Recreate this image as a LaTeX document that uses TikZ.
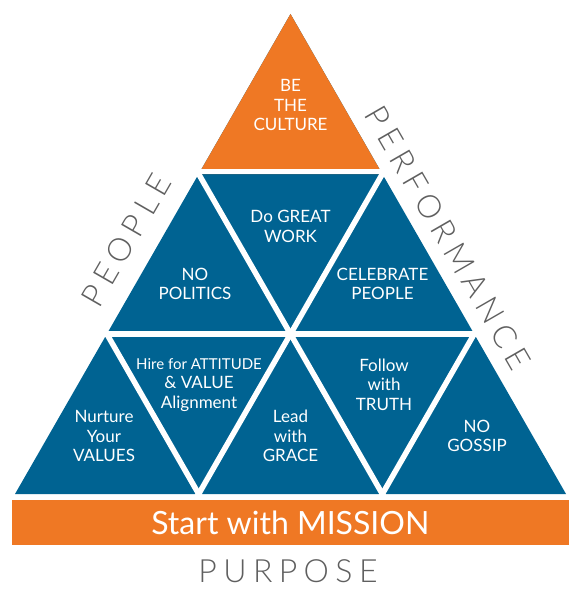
\documentclass[tikz,border=0pt]{standalone}
\usepackage{fontspec}
\setmainfont{Lato}
\newfontfamily\lightfont{Lato Light}[LetterSpace=20]
\definecolor{pyrOrange}{RGB}{239,120,36}
\definecolor{pyrBlue}{RGB}{0,99,146}
\definecolor{labelGrey}{RGB}{95,95,95}
\tikzset{
    gapline/.style={draw=white, line width=5.5pt, shorten <=-8pt, shorten >=-8pt},
    tritext/.style={text=white, align=center, inner sep=0pt, font=\fontsize{17}{19.5}\selectfont},
    sidelabel/.style={text=labelGrey, inner sep=0pt, font=\lightfont\fontsize{32}{32}\selectfont},
}

\begin{document}
\begin{tikzpicture}[x=1pt,y=-1pt]
        \useasboundingbox (0,0) rectangle (581,604);

        \foreach \r in {0,...,3} {
            \foreach \k in {0,...,\r} {
                \coordinate (v\r\k) at ({290.5-\r*91.83+\k*183.67},{14+160*\r});
            }
        }

        \fill[pyrBlue] (v00) -- (v30) -- (v33) -- cycle;
        \fill[pyrOrange] (v00) -- (v10) -- (v11) -- cycle;

        \foreach \i/\j in {v10/v32, v20/v31, v11/v31, v22/v32, v20/v22} {
            \draw[gapline] (\i) -- (\j);
        }
        \draw[gapline] ([yshift=2.5pt]v10) -- ([yshift=2.5pt]v11);

        \node (culture) [tritext] at (290.5,105) {BE\\THE\\CULTURE};
        \node (greatWork) [tritext] at (290.5,226.5) {Do GREAT\\WORK};
        \node (politics) [tritext] at (195,284) {NO\\POLITICS};
        \node (celebrate) [tritext] at (382.5,284) {CELEBRATE\\PEOPLE};
        \node (values) [tritext] at (104,436) {Nurture\\Your\\VALUES};
        \node (attitude) [tritext] at (199,385) {{\fontsize{15}{19.5}\selectfont Hire for ATTITUDE}\\\& VALUE\\Alignment};
        \node (grace) [tritext] at (290.5,436) {Lead\\with\\GRACE};
        \node (truth) [tritext] at (384,384.5) {Follow\\with\\TRUTH};
        \node (gossip) [tritext] at (477,436) {NO\\GOSSIP};

        \node (mission) [fill=pyrOrange, text=white, minimum width=557.3pt, minimum height=45pt, inner sep=0pt, font=\fontsize{32}{32}\selectfont] at (290.35,522.5) {Start with MISSION};

        \node (people) [sidelabel, rotate=60] at (126,240) {PEOPLE};
        \node (performance) [sidelabel, rotate=-60] at (448,238) {PERFORMANCE};
        \node (purpose) [sidelabel] at (288,571) {PURPOSE};
    \end{tikzpicture}
\end{document}
